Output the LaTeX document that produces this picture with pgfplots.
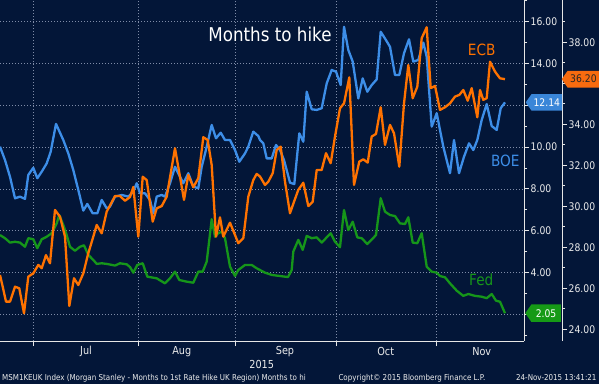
\documentclass[border=0pt]{standalone}
\usepackage{fontspec}
\setmainfont{DejaVu Sans}[FakeStretch=0.88]
\usepackage{pgfplots}
\pgfplotsset{compat=1.18}
\usetikzlibrary{shapes.symbols}
\definecolor{bgcol}{HTML}{031638}
\definecolor{boecol}{HTML}{3D8EE8}
\definecolor{ecbcol}{HTML}{FF7200}
\definecolor{fedcol}{HTML}{16961A}
\definecolor{gridcol}{HTML}{7F8CA8}
\definecolor{axiscol}{HTML}{E6E6E6}
\definecolor{labcol}{HTML}{EDEDED}
\definecolor{ecbbox}{HTML}{F76B0F}
\definecolor{boebox}{HTML}{3A86D8}
\definecolor{fedbox}{HTML}{169A16}
\begin{document}
\begin{tikzpicture}[x=1pt,y=1pt]
\fill[bgcol] (0,0) rectangle (599,384);
\useasboundingbox (0,0) rectangle (599,384);
\pgfplotsset{
  common/.style={
    at={(0pt,43pt)}, anchor=south west, scale only axis, height=341pt,
    xmin=0, clip mode=individual,
    axis line style={-, draw=axiscol, line width=0.9pt},
    every outer x axis line/.append style={-},
    every outer y axis line/.append style={-},
    tick align=outside, major tick length=5pt, minor tick length=3pt,
    tick style={draw=axiscol, line width=0.8pt},
    /pgf/number format/assume math mode=true,
    yticklabel={\pgfmathprintnumber[fixed,fixed zerofill,precision=2]{\tick}},
    yticklabel style={font=\fontsize{10.5}{12}\selectfont, text=labcol, anchor=west, inner sep=1.5pt},
    extra y tick labels={},
  }
}
\begin{axis}[common, width=524pt, xmax=524, ymin=0.72, ymax=17.04,
  axis x line*=bottom, axis y line*=right,
  xtick={33.3,138.3,235,336,436.7}, xticklabels={},
  ytick={4,6,8,10,14,16},
  extra y ticks={2,12},
  extra y tick style={ymajorgrids=true},
  minor ytick={1,3,5,7,9,11,13,15,17},
  xmajorgrids, ymajorgrids,
  major grid style={draw=gridcol, line width=0.7pt, dash pattern=on 1pt off 2pt},
]
\addplot[boecol, line width=2.3pt, line join=round] coordinates {
(0,10.02)(5,9.38)(10,8.58)(15,7.55)(20,7.63)(25,7.52)(28.3,8.67)(33.3,9.01)(37.3,8.51)(41.7,8.82)(46.7,9.22)(50.7,9.78)(56,11.11)(63.3,10.34)(68.3,9.70)(73.3,8.90)(78.3,7.95)(83.3,6.96)(87.3,7.28)(92.7,6.83)(97.3,6.83)(101.7,7.47)(106.7,7.07)(110,7.15)(115,7.63)(121.7,7.71)(128.3,7.63)(133.3,7.87)(136.7,8.27)(140,7.79)(145,7.79)(150,7.47)(153.3,6.83)(156.7,7.63)(161.7,7.71)(165,7.63)(170,8.27)(175,9.06)(180,8.58)(183.3,8.27)(188.3,8.75)(193.3,8.11)(198.3,8.03)(201.7,9.06)(206.7,10.02)(211.7,11.06)(216,10.42)(220.7,10.69)(225,10.34)(230,10.34)(235,9.86)(239.3,9.30)(245,9.70)(248.3,10.02)(253.3,10.74)(258.3,10.53)(260,10.34)(263.3,10.18)(266.7,9.46)(271.7,9.46)(276,10.10)(280,9.86)(284,9.38)(290,8.30)(294.3,8.23)(299.3,10.66)(303.3,10.26)(306.7,12.65)(311.7,11.81)(316.7,11.78)(321.7,11.86)(326.7,13.05)(331.7,13.69)(336,13.61)(340.7,12.97)(344,15.76)(348.3,14.65)(352.7,14.09)(358.3,12.33)(362.7,13.29)(367.3,12.65)(371.7,12.97)(376.7,13.24)(380.7,15.52)(386,15.12)(390,14.80)(395,13.45)(399.3,13.45)(404,14.49)(409,15.16)(413.3,14.09)(418.3,14.17)(423.3,15.00)(426.7,14.33)(431.7,10.98)(436.7,11.62)(443.3,10.02)(450,8.75)(454,10.34)(459,8.75)(464,9.54)(469,10.18)(473.3,9.86)(477.3,10.34)(481.7,11.30)(486.7,12.06)(491.7,11.01)(496.7,10.82)(500.7,11.86)(505,12.14)
};
\addplot[fedcol, line width=2.3pt, line join=round] coordinates {
(0,5.79)(5,5.64)(10,5.43)(15,5.47)(20,5.43)(25,5.23)(28.3,5.64)(33.3,5.59)(37.3,5.16)(41.7,5.59)(46.7,5.71)(51.7,5.88)(56.7,6.35)(59.3,6.75)(63.3,6.27)(66.7,5.79)(70,5.23)(75,5.04)(80,5.23)(84,5.30)(88.3,4.84)(93.3,4.60)(96.7,4.41)(101.7,4.44)(106.7,4.41)(115,4.33)(120,4.44)(126.7,4.39)(130,4.26)(133.3,3.99)(137.3,4.36)(142.7,4.44)(147.3,3.80)(156.7,3.72)(165,3.48)(170,3.72)(175,4.04)(179.3,3.64)(186.7,3.56)(193.3,3.51)(198.3,4.04)(202.7,4.04)(206.7,4.52)(209.3,5.56)(211.7,6.55)(215,5.71)(218.3,5.88)(221.7,5.95)(225,5.64)(230,4.28)(235,3.83)(238.3,4.12)(245,4.36)(251.7,4.36)(256.7,4.20)(265,3.99)(272,3.88)(280,3.83)(288,3.78)(291.7,4.12)(293.3,5.00)(298.3,5.56)(302.7,5.08)(306.7,5.75)(311.7,5.64)(316.7,5.68)(321.7,5.43)(330.7,5.88)(335,5.47)(340,5.21)(344,6.99)(348.3,6.03)(352.7,6.43)(357.3,5.68)(361.7,5.64)(367.3,5.36)(376,5.79)(380.7,7.55)(385,6.91)(390,6.75)(395,6.70)(400,6.35)(405,6.32)(408.3,6.64)(412.7,5.43)(417.3,5.40)(421.7,5.88)(426.7,4.28)(431.7,4.04)(436.7,3.99)(440,3.83)(445,3.77)(450,3.48)(456.7,3.13)(463.3,2.88)(468.3,2.97)(475,2.88)(481.7,2.84)(486.7,2.77)(491.7,2.97)(496,2.65)(500,2.60)(505,2.05)
};
\coordinate (boeEnd) at (axis cs:524,12.14);
\coordinate (fedEnd) at (axis cs:524,2.05);
\end{axis}
\begin{axis}[common, width=562pt, xmax=562, ymin=23.43, ymax=40.06,
  hide x axis, axis y line*=right,
  ytick={24,26,28,30,32,34,38},
  extra y ticks={36},
  minor ytick={25,27,29,31,33,35,37,39},
]
\addplot[ecbcol, line width=2.3pt, line join=round] coordinates {
(0,26.65)(2.7,26.08)(6,25.35)(10,25.35)(15,26.08)(19.3,26.00)(24,24.78)(28.3,26.57)(33.3,26.73)(38.3,27.14)(41.7,26.98)(46,27.62)(50,27.22)(55,29.82)(60,29.49)(65,28.52)(69.3,25.14)(74,26.49)(78.3,26.16)(83.3,26.73)(88.3,27.71)(93.3,28.52)(96.7,29.09)(101.7,28.68)(106.7,29.74)(115,30.50)(120,30.50)(125,30.27)(130,30.45)(133.3,30.94)(138.3,28.52)(142.7,31.44)(146.7,31.28)(152.7,29.25)(156.7,29.90)(161.7,30.01)(166.7,30.47)(175,32.83)(180,31.44)(184,30.31)(188.3,31.53)(193.3,30.93)(198.3,31.37)(203.3,33.37)(207.7,33.23)(211.7,32.01)(216,28.52)(220,29.46)(223.3,28.52)(230,29.20)(238.3,28.20)(243.3,28.44)(248.3,30.47)(253.3,31.28)(256.7,31.58)(260,31.45)(265,31.04)(268.3,31.20)(272.7,31.61)(276.7,32.75)(280.7,32.91)(285,31.20)(290,29.66)(294,30.22)(298.3,30.80)(303.3,31.15)(308.3,30.01)(312.7,30.22)(316.7,31.77)(321.7,31.77)(326,32.59)(330.7,32.10)(335,33.40)(340,34.78)(344,35.02)(349.3,36.29)(354,31.04)(359.3,32.18)(363.3,32.29)(367.7,32.13)(371.7,33.40)(376,33.53)(380.7,34.83)(385,32.99)(390,33.97)(394,33.56)(399.3,31.93)(404,35.02)(408.3,36.89)(412.7,35.27)(417.3,35.83)(421.7,38.20)(426.7,38.73)(430.7,35.76)(435,35.87)(440,34.70)(445,34.83)(450,35.02)(455,35.35)(459.3,35.43)(463.3,35.67)(467.7,35.15)(471.7,35.76)(477.3,34.34)(480,35.67)(483.3,35.19)(486.7,35.27)(490,37.05)(495,36.57)(500,36.24)(505,36.20)
};
\coordinate (ecbEnd) at (axis cs:562,36.20);
\end{axis}
% value boxes
\tikzset{vbox/.style={signal, signal to=west, signal pointer angle=110, anchor=west,
  minimum height=16.7pt, inner xsep=2pt, inner ysep=1pt, font=\fontsize{10.5}{12}\selectfont}}
\node[vbox, fill=ecbbox, text={black!85}, minimum width=37.5pt, xshift=-0.5pt] at (ecbEnd) {36.20};
\node[vbox, fill=boebox, text=white, minimum width=35pt, xshift=1.5pt] at (boeEnd) {12.14};
\node[vbox, fill=fedbox, text=white, minimum width=35.5pt, minimum height=17.5pt, xshift=1pt] at (fedEnd) {2.05};
% series labels
\node[anchor=base, text=ecbcol, font=\fontsize{15.5}{18}\selectfont] at (481.7,329) {ECB};
\node[anchor=base, text=boecol, font=\fontsize{15.5}{18}\selectfont] at (505.3,218) {BOE};
\node[anchor=base, text=fedcol, font=\fontsize{15.5}{18}\selectfont] at (481.3,99) {Fed};
% title
\node[anchor=base, text=white, font=\fontsize{19}{22}\selectfont] at (270,342.3) {Months to hike};
% months
\foreach \xx/\mm in {86/Jul,181.7/Aug,285/Sep,385.7/Oct,481.7/Nov}
  \node[text=labcol, font=\fontsize{11}{13}\selectfont] at (\xx,32.7) {\mm};
\node[text=labcol, font=\fontsize{11}{13}\selectfont] at (261.7,20) {2015};
% footer
\node[anchor=base west, text=labcol, font=\fontsize{8.1}{10}\selectfont, inner sep=0pt] at (2,3.5) {MSM1KEUK Index (Morgan Stanley - Months to 1st Rate Hike UK Region) Months to hi};
\node[anchor=base west, text=labcol, font=\fontsize{8.1}{10}\selectfont, inner sep=0pt] at (338.3,3.5) {Copyright© 2015 Bloomberg Finance L.P.};
\node[anchor=base east, text=labcol, font=\fontsize{8.1}{10}\selectfont, inner sep=0pt] at (596.7,3.5) {24-Nov-2015 13:41:21};
\end{tikzpicture}
\end{document}
